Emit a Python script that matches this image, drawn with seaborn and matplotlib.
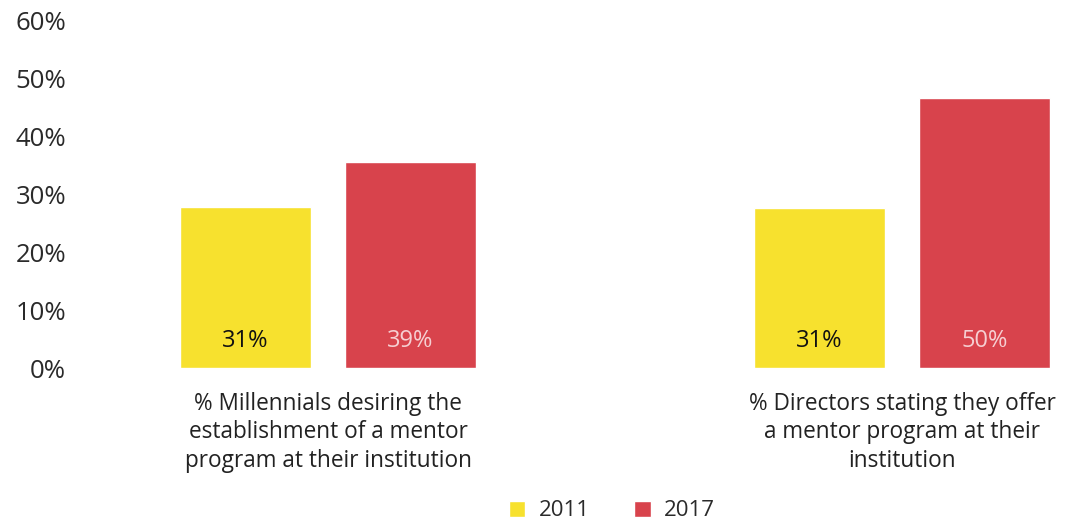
import matplotlib
matplotlib.use("Agg")
import matplotlib.pyplot as plt
import seaborn as sns
import pandas as pd

categories = ["% Millennials desiring the\nestablishment of a mentor\nprogram at their institution",
              "% Directors stating they offer\na mentor program at their\ninstitution"]
years = ["2011", "2017"]
heights_2011 = [27.8, 27.6]   # bar heights as drawn in the picture
heights_2017 = [35.5, 46.5]
labels_2011 = ["31%", "31%"]  # printed values
labels_2017 = ["39%", "50%"]
yticks = [0, 10, 20, 30, 40, 50, 60]
colors = {"2011": "#f7e12e", "2017": "#d8434c"}
label_colors = {"2011": "#111111", "2017": "#f6cfd2"}

df = pd.DataFrame({
    "category": categories * 2,
    "year": ["2011"] * 2 + ["2017"] * 2,
    "value": heights_2011 + heights_2017,
    "label": labels_2011 + labels_2017,
})

sns.set_theme(style="white")
plt.rcParams["font.family"] = ["Open Sans", "DejaVu Sans"]

fig = plt.figure(figsize=(10.68, 5.24), dpi=100)
ax = fig.add_axes([80 / 1068, (524 - 368) / 524, 1 - 80 / 1068, 348 / 524])

sns.barplot(data=df, x="category", y="value", hue="year", order=categories,
            hue_order=years, palette=colors, width=0.575, gap=0.21,
            saturation=1, ax=ax, legend=True)

ax.set_xlim(-0.432, 1.289)
ax.set_ylim(0, 60)
ax.set_yticks(yticks)
ax.set_yticklabels([f"{t}%" for t in yticks], fontsize=18.5, color="#2a2a2a")
ax.tick_params(axis="y", length=0, pad=10)
ax.tick_params(axis="x", length=0, pad=17)
for t in ax.get_xticklabels():
    t.set_fontsize(16.3)
    t.set_color("#222222")
    t.set_linespacing(1.26)
ax.set_xlabel("")
ax.set_ylabel("")
for s in ax.spines.values():
    s.set_visible(False)

for container, yr in zip(ax.containers, years):
    labs = df[df.year == yr].set_index("category").loc[categories, "label"].tolist()
    for patch, lab in zip(container.patches, labs):
        ax.text(patch.get_x() + patch.get_width() / 2, 4.7, lab,
                ha="center", va="center", fontsize=17, color=label_colors[yr])

leg = ax.get_legend()
handles = leg.legend_handles
leg.remove()
fig.legend(handles, years, loc="center", bbox_to_anchor=(0.573, 0.025), ncol=2,
           frameon=False, fontsize=16, handlelength=0.75, handleheight=0.75,
           columnspacing=2.0, handletextpad=0.6, labelcolor="#2a2a2a")

fig.savefig("out.png", dpi=100)
